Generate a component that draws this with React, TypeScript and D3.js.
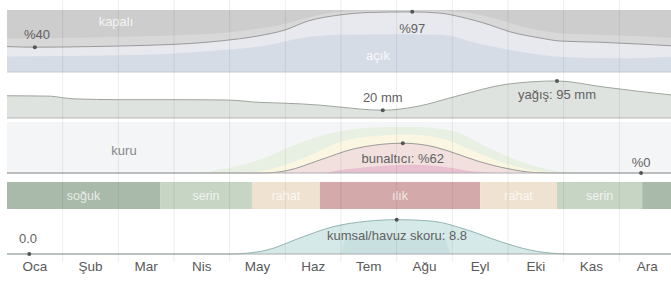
import React from "react";
import * as d3 from "d3";

const months = ["Oca", "Şub", "Mar", "Nis", "May", "Haz", "Tem", "Ağu", "Eyl", "Eki", "Kas", "Ara"];

// cloud cover, % of time (stacked from bottom), positions in months
const cloudBlue = [[0, 25], [1, 26], [2, 27], [3, 30], [3.82, 35], [4.6, 42], [5.3, 55], [6, 60], [7, 61], [7.8, 60], [8.5, 45], [9.2, 33], [10, 24], [11, 22], [12, 25]];
const cloudClear = [[0, 41], [0.5, 40], [1.5, 41], [2.5, 43], [3.3, 46], [3.82, 50], [4.5, 58], [5.0, 68], [5.4, 82], [5.98, 92], [6.5, 96], [7.28, 97], [7.78, 95], [8.14, 89], [8.67, 76], [9.03, 65], [9.57, 55], [9.93, 50], [10.65, 48], [11.37, 45], [12, 42]];
const cloudMostly = [[0, 54], [1, 55], [2, 57], [3, 59], [4, 64], [5, 78], [5.5, 90], [6, 97], [7.28, 99], [8, 98], [8.7, 88], [9.3, 72], [10, 62], [11, 59], [12, 55]];

// precipitation, mm
const rain = [[0, 57], [0.78, 56], [1.0, 52], [1.22, 49], [2, 47], [3, 47], [3.97, 46], [4.54, 40], [4.99, 38], [5.62, 33], [5.91, 29], [6.75, 20], [7.38, 30], [8.05, 55], [9.0, 87], [9.88, 95], [10.69, 80], [11.37, 68], [12, 58]];

// humidity comfort, % of time (cumulative)
const humidGreen = [[0, 0], [3.3, 0], [3.95, 10], [4.6, 30], [5.2, 60], [5.9, 85], [6.6, 95], [7.3, 96], [8, 88], [8.6, 55], [9.2, 25], [9.8, 6], [10.3, 0], [12, 0]];
const humidYellow = [[0, 0], [4.2, 0], [4.8, 10], [5.4, 35], [6, 65], [6.6, 77], [7.2, 80], [7.8, 72], [8.4, 45], [9, 18], [9.6, 3], [10, 0], [12, 0]];
const muggy = [[0, 0], [4, 0], [4.6, 0], [5.03, 5], [5.62, 27], [6.22, 50], [6.6, 58], [7.11, 62], [7.69, 54], [8.05, 41], [8.48, 24], [9.0, 9], [9.48, 1], [9.93, 0], [12, 0]];
const oppressive = [[0, 0], [5.6, 0], [6.1, 8], [6.8, 15], [7.3, 17], [7.9, 12], [8.4, 3], [8.8, 0], [12, 0]];

// temperature bands
const tempStart = [0, 2.75, 4.4, 5.62, 8.5, 9.88, 11.41];
const tempEnd = [2.75, 4.4, 5.62, 8.5, 9.88, 11.41, 12];
const tempLabels = ["soğuk", "serin", "rahat", "ılık", "rahat", "serin", ""];
const tempKinds = ["cold", "cool", "comf", "warm", "comf", "cool", "cold"];

// beach / pool score
const beach = [[0, 0], [4.0, 0], [4.3, 0.2], [4.67, 1.0], [5.26, 4.1], [5.86, 7.0], [6.47, 8.4], [7.0, 8.8], [7.65, 8.4], [8.26, 6.2], [8.86, 3.2], [9.4, 1.0], [9.9, 0.1], [10.2, 0], [12, 0]];
const beachInner = [[6.0, 0], [6.08, 4.1], [7.88, 4.1], [7.96, 0]];

const tempColor: Record<string, string> = { cold: "#a9baab", cool: "#c7d5c4", comf: "#efe2d0", warm: "#d4a9aa" };
const font = "'Liberation Sans', Arial, sans-serif";

const App = () => {
  const x = d3.scaleLinear().domain([0, 12]).range([7, 675]);
  const yCloud = d3.scaleLinear().domain([0, 100]).range([72, 10]);
  const yRain = d3.scaleLinear().domain([0, 100]).range([118, 79]);
  const yHum = d3.scaleLinear().domain([0, 100]).range([173, 125]);
  const yBeach = d3.scaleLinear().domain([0, 10]).range([254, 215]);

  const area = (y: d3.ScaleLinear<number, number>, curve = d3.curveMonotoneX) =>
    d3.area<number[]>().x(d => x(d[0])).y0(y(0)).y1(d => y(d[1])).curve(curve);
  const line = (y: d3.ScaleLinear<number, number>) =>
    d3.line<number[]>().x(d => x(d[0])).y(d => y(d[1])).curve(d3.curveMonotoneX);

  const dot = (px: number, py: number) => <circle cx={px} cy={py} r={2} fill="#555" />;
  const label = (txt: string, px: number, py: number, fill = "#626262", size = 13) => (
    <text x={px} y={py} textAnchor="middle" fontSize={size} fill={fill} fontFamily={font}>{txt}</text>
  );

  return (
    <div style={{ position: "fixed", left: 0, top: 0 }}>
      <svg width={671} height={286} style={{ display: "block", background: "#fff" }}>
        {/* clouds */}
        <rect x={x(0)} y={yCloud(100)} width={x(12) - x(0)} height={yCloud(0) - yCloud(100)} fill="#cdcdcd" />
        <path d={area(yCloud)(cloudMostly)!} fill="#d8d8d8" />
        <path d={area(yCloud)(cloudClear)!} fill="#e7e9ee" />
        <path d={area(yCloud)(cloudBlue)!} fill="#d6dce6" />
        <path d={line(yCloud)(cloudClear)!} fill="none" stroke="#9a9a9a" strokeWidth={1} />
        <line x1={x(0)} x2={x(12)} y1={yCloud(0)} y2={yCloud(0)} stroke="#c3c8d0" />
        {label("kapalı", 116, 26, "rgba(255,255,255,0.8)")}
        {label("açık", 378, 60, "rgba(255,255,255,0.85)")}
        {label("%40", 37, 39)}
        {dot(x(0.5), yCloud(40))}
        {label("%97", x(7.28), 33)}
        {dot(x(7.28), yCloud(97))}

        {/* precipitation */}
        <path d={area(yRain)(rain)!} fill="#dfe3df" />
        <path d={line(yRain)(rain)!} fill="none" stroke="#9ea59e" />
        <line x1={x(0)} x2={x(12)} y1={yRain(0)} y2={yRain(0)} stroke="#b8b8b8" />
        {label("20 mm", x(6.75), 102)}
        {dot(x(6.75), yRain(20))}
        {label("yağış: 95 mm", x(9.88), 99)}
        {dot(x(9.88), yRain(95))}

        {/* humidity */}
        <rect x={x(0)} y={122} width={x(12) - x(0)} height={yHum(0) - 122} fill="#f4f5f7" />
        <path d={area(yHum)(humidGreen)!} fill="#e7f0e2" />
        <path d={area(yHum)(humidYellow)!} fill="#faf6e2" />
        <path d={area(yHum)(muggy)!} fill="#f1e0de" />
        <path d={area(yHum)(oppressive)!} fill="#e8c0d0" />
        <path d={line(yHum)(muggy)!} fill="none" stroke="#9a9a9a" />
        <line x1={x(0)} x2={x(12)} y1={yHum(0)} y2={yHum(0)} stroke="#b0b0b0" />
        {label("kuru", 124, 155, "#888")}
        {label("bunaltıcı: %62", x(7.11), 163)}
        {dot(x(7.11), yHum(62))}
        {label("%0", x(11.39), 167)}
        {dot(x(11.39), yHum(0))}

        {/* temperature */}
        {tempStart.map((s, i) => (
          <g key={i}>
            <rect x={x(s)} y={182} width={x(tempEnd[i]) - x(s)} height={27} fill={tempColor[tempKinds[i]]} />
            {tempLabels[i] && label(tempLabels[i], (x(s) + x(tempEnd[i])) / 2, 200, "rgba(255,255,255,0.75)", 12.5)}
          </g>
        ))}

        {/* beach score */}
        <path d={area(yBeach)(beach)!} fill="#d5e9e8" />
        <path d={area(yBeach, d3.curveLinear)(beachInner)!} fill="#c8e1e0" />
        <path d={line(yBeach)(beach)!} fill="none" stroke="#93b4b2" />
        <line x1={x(0)} x2={x(12)} y1={yBeach(0)} y2={yBeach(0)} stroke="#aaa" />
        {label("0.0", 28, 243)}
        {dot(x(0.4), yBeach(0))}
        {label("kumsal/havuz skoru: 8.8", 397, 240)}
        {dot(x(7.0), yBeach(8.8))}

        {/* grid */}
        {d3.range(1, 12).map(m => (
          <line key={m} x1={x(m)} x2={x(m)} y1={0} y2={262} stroke="#000" strokeOpacity={0.07} />
        ))}
        {months.map((mName, i) => (
          <text key={mName} x={x(i + 0.5)} y={271} textAnchor="middle" fontSize={13.5} fill="#5a5a5a" fontFamily={font}>{mName}</text>
        ))}
      </svg>
    </div>
  );
};

export default App;
